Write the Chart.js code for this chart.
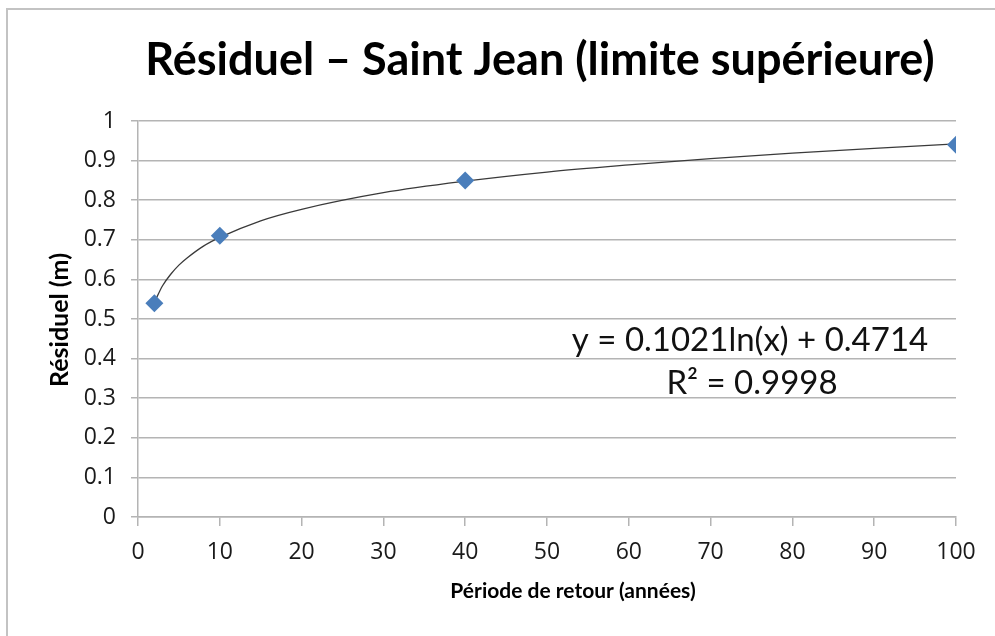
<!DOCTYPE html>
<html>
<head>
<meta charset="utf-8">
<script src="https://cdn.jsdelivr.net/npm/chart.js@4"></script>
<style>
  html, body { margin: 0; padding: 0; background: #fff; }
  #wrap { position: relative; width: 995px; height: 636px; }
  #frame { position: absolute; left: 6px; top: 8px; right: -4px; bottom: -4px; border: 2px solid #c3c3c3; }
</style>
</head>
<body>
<div id="wrap">
  <div id="frame"></div>
  <canvas id="chart" width="995" height="636"></canvas>
</div>
<script>
// observed points (période de retour, résiduel)
const periods = [2, 10, 40, 100];
const residuals = [0.54, 0.71, 0.85, 0.94];

// logarithmic trendline, values
const trendX = [2, 3, 4, 5, 6, 8, 10, 15, 20, 30, 40, 50, 60, 70, 80, 90, 100];
const trendY = [0.542, 0.584, 0.613, 0.636, 0.654, 0.684, 0.706, 0.748, 0.777, 0.819, 0.848, 0.871, 0.889, 0.905, 0.919, 0.931, 0.942];

const xTicks = [0, 10, 20, 30, 40, 50, 60, 70, 80, 90, 100];
const yTicks = [0, 0.1, 0.2, 0.3, 0.4, 0.5, 0.6, 0.7, 0.8, 0.9, 1];

const titleText = 'Résiduel – Saint Jean (limite supérieure)';
const xTitle = 'Période de retour (années)';
const yTitle = 'Résiduel (m)';
const equation = 'y = 0.1021ln(x) + 0.4714';
const rSquared = 'R² = 0.9998';

const FONT = 'Lato, "Open Sans", sans-serif';
const TICK_FONT = '"Open Sans", Lato, sans-serif';
const gridColor = '#b4b4b4';

const toPoints = (xs, ys) => xs.map((x, i) => ({ x: x, y: ys[i] }));

// titles and trendline label
const textPlugin = {
    id: 'texts',
    afterDraw(chart) {
        const ctx = chart.ctx;
        ctx.save();
        ctx.fillStyle = '#000';
        ctx.textAlign = 'center';
        ctx.textBaseline = 'middle';

        ctx.font = 'bold 45px ' + FONT;
        ctx.fillText(titleText, 540, 60);

        ctx.font = 'bold 21px ' + FONT;
        ctx.fillText(xTitle, 573, 591);

        ctx.save();
        ctx.translate(60, 320);
        ctx.rotate(-Math.PI / 2);
        ctx.font = 'bold 25px ' + FONT;
        ctx.fillText(yTitle, 0, 0);
        ctx.restore();

        ctx.fillStyle = '#111';
        ctx.font = '33px ' + FONT;
        ctx.fillText(equation, 750, 340);
        ctx.fillText(rSquared, 752, 383);
        ctx.restore();
    }
};

new Chart(document.getElementById('chart'), {
    type: 'scatter',
    data: {
        datasets: [
            {
                label: 'Trendline',
                data: toPoints(trendX, trendY),
                showLine: true,
                borderColor: '#3a3a3a',
                borderWidth: 1.3,
                pointRadius: 0,
                cubicInterpolationMode: 'monotone',
                order: 2
            },
            {
                label: 'Résiduel',
                data: toPoints(periods, residuals),
                pointStyle: 'rectRot',
                pointRadius: 9,
                backgroundColor: '#4a7ebb',
                borderColor: '#4a7ebb',
                borderWidth: 0,
                order: 1
            }
        ]
    },
    options: {
        responsive: false,
        animation: false,
        layout: { padding: { left: 0, top: 121, right: 39, bottom: 0 } },
        plugins: {
            legend: { display: false },
            tooltip: { enabled: false }
        },
        scales: {
            x: {
                type: 'linear',
                min: 0,
                max: 100,
                afterBuildTicks: s => { s.ticks = xTicks.map(v => ({ value: v })); },
                afterFit: s => { s.height = 119; },
                grid: { drawOnChartArea: false, color: gridColor, tickLength: 9, lineWidth: 1.5 },
                border: { color: gridColor, width: 1.5 },
                ticks: { color: '#1a1a1a', font: { family: TICK_FONT, size: 23 }, padding: 13 }
            },
            y: {
                min: 0,
                max: 1,
                afterBuildTicks: s => { s.ticks = yTicks.map(v => ({ value: v })); },
                afterFit: s => { s.width = 138; },
                grid: { color: gridColor, tickLength: 7, lineWidth: 1.5 },
                border: { color: gridColor, width: 1.5 },
                ticks: {
                    color: '#1a1a1a',
                    font: { family: TICK_FONT, size: 23 },
                    padding: 15,
                    callback: v => String(v)
                }
            }
        }
    },
    plugins: [textPlugin]
});
</script>
</body>
</html>
